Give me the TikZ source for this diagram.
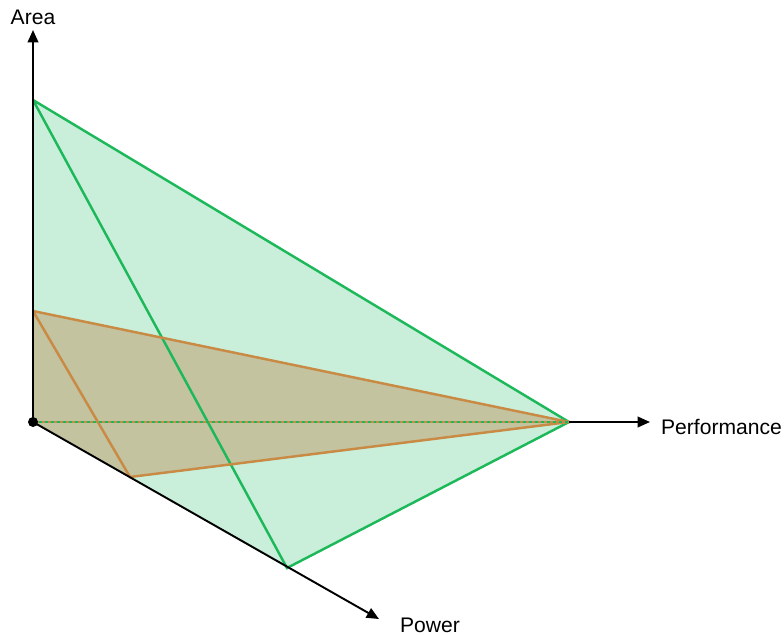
\documentclass[tikz,border=0pt]{standalone}
\usepackage{fontspec}
\setmainfont{Liberation Sans}
\usetikzlibrary{arrows.meta}
\definecolor{volgreen}{HTML}{1DB85A}
\definecolor{volgreenfill}{HTML}{C9EFDA}
\definecolor{volorange}{HTML}{C98A44}
\definecolor{volorangefill}{HTML}{C3C3A0}

\begin{document}
\begin{tikzpicture}[x=0.02cm,y=-0.02cm,
    axis/.style={line width=1.1pt,black,-{Triangle[length=7pt,width=6pt]}},
    greenedge/.style={line width=1.4pt,volgreen},
    orangeedge/.style={line width=1.4pt,volorange},
    axislabel/.style={font=\fontsize{12}{14}\selectfont,inner sep=1pt}]
  \useasboundingbox (0,0) rectangle (784,635);
  % Corners
  \coordinate (O) at (33,422);
  \coordinate (gA) at (33,100);
  \coordinate (gPerf) at (569,422);
  \coordinate (gPow) at (287,568);
  \coordinate (oA) at (33,311);
  \coordinate (oPow) at (130,477);
  \coordinate (areaEnd) at (33,30);
  \coordinate (perfEnd) at (650,422);
  \coordinate (powEnd) at (379,619);
  % Fills
  \fill[volgreenfill] (gA) -- (gPerf) -- (gPow) -- (O) -- cycle;
  \fill[volorangefill] (oA) -- (gPerf) -- (oPow) -- (O) -- cycle;
  % Edges
  \draw[greenedge] (gA) -- (gPerf) -- (gPow) -- (gA);
  \draw[orangeedge] (oA) -- (gPerf) -- (oPow) -- (oA);
  \draw[orangeedge] (O) -- (gPerf);
  \draw[greenedge,dash pattern=on 1.7pt off 1.7pt] (O) -- (gPerf);
  % Axes
  \draw[axis] (O) -- (areaEnd);
  \draw[axis] (gPerf) -- (perfEnd);
  \draw[axis] (O) -- (powEnd);
  \fill (O) circle (5);
  % Labels
  \node[axislabel] (areaLbl) at (33,17) {Area};
  \node[axislabel,anchor=west] (perfLbl) at (659,427) {Performance};
  \node[axislabel,anchor=west] (powLbl) at (398,625) {Power};
\end{tikzpicture}
\end{document}
